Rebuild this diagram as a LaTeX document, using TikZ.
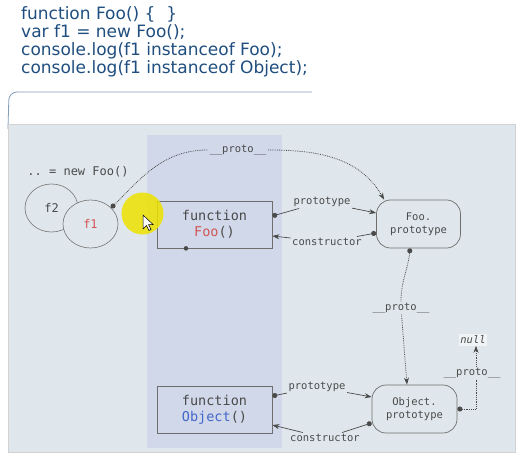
\documentclass[tikz,border=0pt]{standalone}
\usepackage{fontspec}
\setmainfont{DejaVu Sans}
\setmonofont{DejaVu Sans Mono}
\usetikzlibrary{arrows.meta,shapes.geometric}

\definecolor{codeblue}{HTML}{1F4E7F}
\definecolor{panel}{HTML}{DFE7EC}
\definecolor{band}{HTML}{D0D8EA}
\definecolor{ink}{HTML}{4A4A4A}
\definecolor{foored}{HTML}{D25555}
\definecolor{objblue}{HTML}{4466CC}

\tikzset{
	codeline/.style={anchor=base west, text=codeblue, font=\fontsize{17}{20}\selectfont, inner sep=0pt},
	fnbox/.style={draw=ink!80, line width=0.7pt, minimum width=115pt, minimum height=47pt, align=center, text=ink, font=\ttfamily\fontsize{13.5}{16}\selectfont},
	protobox/.style={draw=ink!80, line width=0.7pt, rounded corners=14pt, minimum width=84pt, minimum height=48pt, align=center, text=ink, font=\ttfamily\fontsize{10.5}{13}\selectfont},
	objcircle/.style={ellipse, draw=ink!70, line width=0.7pt, fill=panel, inner sep=0pt, text=ink, font=\ttfamily\fontsize{12}{14}\selectfont},
	lbl/.style={inner sep=1.5pt, text=ink, font=\ttfamily\fontsize{10.5}{12}\selectfont},
	dotstart/.style={{Circle[length=5pt]}-},
	tipend/.style={-{Stealth[length=7pt,width=5pt]}},
	reflink/.style={draw=ink, line width=0.7pt},
	protolink/.style={draw=ink, line width=0.8pt, densely dotted},
}

\begin{document}
\begin{tikzpicture}[x=1pt,y=1pt]
			%%%%% START %%%%%
			\useasboundingbox[fill=white] (0,0) rectangle (520,459);
			
			% code above the slide
			\node[codeline] (l1) at (21,439) {function Foo() \{~ \}};
			\node[codeline] (l2) at (21,421) {var f1 = new Foo();};
			\node[codeline] (l3) at (21,403) {console.log(f1 instanceof Foo);};
			\node[codeline] (l4) at (21,385) {console.log(f1 instanceof Object);};
			\draw[line width=0.8pt, color=codeblue!55, rounded corners=8pt] (312,367) -- (9,367) -- (8,330);
			
			% slide background
			\draw[fill=panel, draw=gray!35] (8,7) rectangle (515,335);
			\fill[band] (147,11) rectangle (282,324);
			
			% instances
			\node[text=ink, font=\ttfamily\fontsize{12}{14}\selectfont] (newfoo) at (78,287) {.. = new Foo()};
			\node[objcircle, minimum width=53pt, minimum height=48pt] (f2) at (51.5,251) {f2};
			\node[objcircle, minimum width=55pt, minimum height=48pt, text=foored] (f1) at (90.5,235) {f1};
			
			% functions and prototypes
			\node[fnbox] (foo) at (214.5,234.5) {function\\\textcolor{foored}{Foo}()};
			\node[fnbox] (obj) at (214.5,49.5) {function\\\textcolor{objblue}{Object}()};
			\node[protobox] (foop) at (418.5,235) {Foo.\\prototype};
			\node[protobox, minimum width=85pt] (objp) at (414.5,50) {Object.\\prototype};
			\node[lbl, fill=white!55!panel, font=\ttfamily\itshape\fontsize{10.5}{12}\selectfont] (null) at (473,119) {null};
			
			% labels on the links
			\node[lbl] (pA) at (238,309) {\_\_proto\_\_};
			\node[lbl] (ptA) at (322,257) {prototype};
			\node[lbl] (ctA) at (327,217) {constructor};
			\node[lbl] (pB) at (401,151) {\_\_proto\_\_};
			\node[lbl] (ptB) at (317,72) {prototype};
			\node[lbl] (ctB) at (325,21) {constructor};
			\node[lbl] (pC) at (472,86) {\_\_proto\_\_};
			
			% link ends
			\coordinate (f1dot) at (f1.38);
			\coordinate (foopIn) at ([xshift=8]foop.north west);
			\coordinate (fooOut) at ([yshift=8.5]foo.east);
			\coordinate (fooIn) at ([yshift=-11.5]foo.east);
			\coordinate (foopL1) at ([yshift=11]foop.west);
			\coordinate (foopL2) at ([yshift=-9]foop.west);
			\coordinate (foopDown) at ([xshift=-8.5]foop.south);
			\coordinate (objpUp) at ([xshift=-7.5]objp.north);
			\coordinate (objOut) at ([yshift=13.5]obj.east);
			\coordinate (objIn) at ([yshift=-15.5]obj.east);
			\coordinate (objpL1) at ([yshift=12]objp.west);
			\coordinate (objpL2) at ([yshift=-14]objp.west);
			\coordinate (bend) at (476,50);
			
			% __proto__ chain
			\draw[protolink, dotstart] (f1dot) to[out=45,in=180] (pA.west);
			\draw[protolink, tipend] (pA.east) to[out=0,in=120] (foopIn);
			\draw[protolink, dotstart] (foopDown) to[out=-95,in=90] (pB);
			\draw[protolink, tipend] (pB) -- (objpUp);
			\draw[protolink, dotstart] (objp.east) -- (bend) -- ([xshift=4]pC.south);
			\draw[protolink, tipend] ([xshift=4]pC.north) -- ([xshift=3]null.south);
			
			% prototype / constructor
			\draw[reflink, dotstart] (fooOut) -- (ptA);
			\draw[reflink, tipend] (ptA) -- (foopL1);
			\draw[reflink, dotstart] (foopL2) -- (ctA);
			\draw[reflink, tipend] (ctA) -- (fooIn);
			\draw[reflink, dotstart] (objOut) -- (ptB);
			\draw[reflink, tipend] (ptB) -- (objpL1);
			\draw[reflink, dotstart] (objpL2) -- (ctB);
			\draw[reflink, tipend] (ctB) -- (objIn);
			\fill[ink] ([xshift=-28.5]foo.south) circle (2.3pt);
			
			% pointer
			\fill[yellow!85!olive, opacity=0.85] (142.5,245.5) circle (21);
			\draw[fill=white, draw=black, line width=0.5pt] (143,244) -- (143,230) -- (146.5,233.5) -- (149,228.5) -- (151,229.5) -- (148.5,234.5) -- (153,234.5) -- cycle;
			%%%%% END %%%%%
\end{tikzpicture}
\end{document}
